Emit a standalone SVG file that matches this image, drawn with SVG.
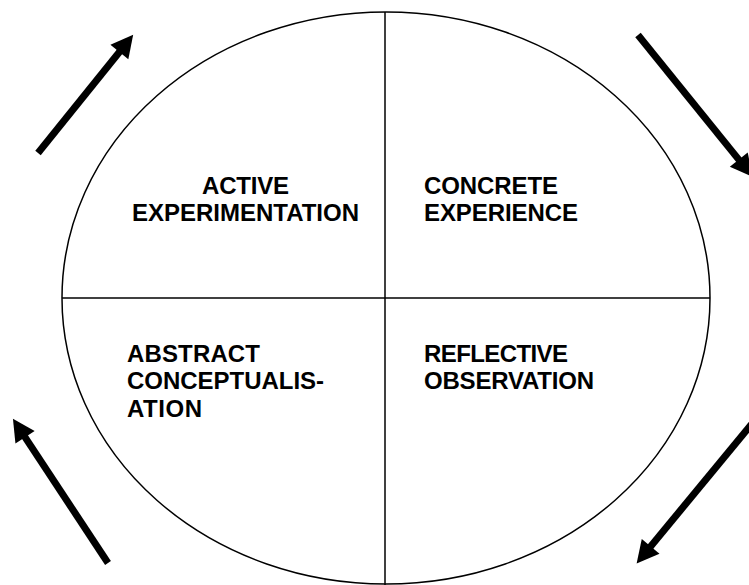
<svg xmlns="http://www.w3.org/2000/svg" width="749" height="585" viewBox="0 0 749 585">
  <style>
    .frame { fill: none; stroke: #000; stroke-width: 1.5; }
    .flow { stroke: #000; stroke-width: 7; fill: none; marker-end: url(#head); }
    .label { font-family: "Liberation Sans", Arial, Helvetica, sans-serif; font-weight: bold; font-size: 24px; fill: #000; }
  </style>
  <defs>
    <marker id="head" markerUnits="userSpaceOnUse" markerWidth="26" markerHeight="26" viewBox="0 -13 23 26" refX="1" refY="0" orient="auto">
      <path d="M0,-11.5 L22,0 L0,11.5 Z" fill="#000"/>
    </marker>
  </defs>
  <rect width="749" height="585" fill="#fff"/>

  <!-- cycle outline split into four quadrants -->
  <g id="cycle">
    <ellipse class="frame" cx="386" cy="298" rx="324" ry="286"/>
    <line class="frame" x1="385" y1="12" x2="385" y2="585"/>
    <line class="frame" x1="62" y1="298" x2="710" y2="298"/>
  </g>

  <g id="active-experimentation">
    <text class="label" x="245.5" y="194" text-anchor="middle" textLength="87">ACTIVE</text>
    <text class="label" x="245.5" y="221" text-anchor="middle" textLength="227">EXPERIMENTATION</text>
  </g>

  <g id="concrete-experience">
    <text class="label" x="424" y="194" textLength="134">CONCRETE</text>
    <text class="label" x="424" y="221" textLength="154">EXPERIENCE</text>
  </g>

  <g id="abstract-conceptualisation">
    <text class="label" x="127" y="362" textLength="133">ABSTRACT</text>
    <text class="label" x="127" y="389" textLength="197">CONCEPTUALIS-</text>
    <text class="label" x="127" y="417" textLength="75">ATION</text>
  </g>

  <g id="reflective-observation">
    <text class="label" x="424" y="362" textLength="144">REFLECTIVE</text>
    <text class="label" x="424" y="389" textLength="170">OBSERVATION</text>
  </g>

  <!-- clockwise flow arrows around the cycle -->
  <g id="connectors">
    <line class="flow" x1="38" y1="153" x2="120" y2="51.2"/>
    <line class="flow" x1="638" y1="35" x2="739.4" y2="160.4"/>
    <line class="flow" x1="760" y1="414" x2="650" y2="547.2"/>
    <line class="flow" x1="108" y1="563" x2="24.5" y2="436.4"/>
  </g>
</svg>
